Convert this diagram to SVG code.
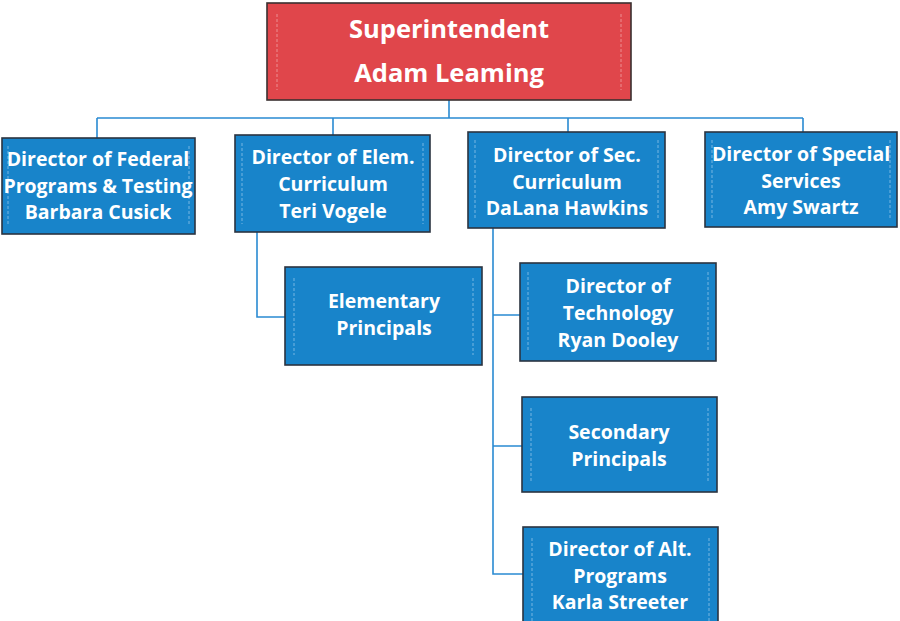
<svg xmlns="http://www.w3.org/2000/svg" width="900" height="621" viewBox="0 0 900 621">
  <style>
    .box { fill: #1884ca; stroke: #2b3440; stroke-width: 1.6; }
    .top { fill: #e0464b; stroke: #3a3030; stroke-width: 1.6; }
    .edge { stroke: #8fc3e8; stroke-width: 1; stroke-dasharray: 3 2; fill: none; opacity: 0.8; }
    .edge-r { stroke: #f0a0a4; stroke-width: 1; stroke-dasharray: 3 2; fill: none; opacity: 0.8; }
    .lbl { fill: #ffffff; font-family: "Open Sans", Lato, "Liberation Sans", sans-serif; font-weight: bold; font-size: 19.5px; text-anchor: middle; }
    .lbl-top { font-size: 25.5px; }
    .link { fill: none; stroke: #2a8ad2; stroke-width: 1.6; }
  </style>
  <rect width="900" height="621" fill="#ffffff"/>

  <g id="connectors">
    <path class="link" d="M449 100 V118 M97 118 H803 M97 118 V138 M333 118 V135 M568 118 V132 M803 118 V132"/>
    <path class="link" d="M257 232 V317 H285"/>
    <path class="link" d="M493 228 V574 H523 M493 315 H520 M493 446 H522"/>
  </g>

  <g id="superintendent">
    <rect class="top" x="267" y="3" width="364" height="97"/>
    <path class="edge-r" d="M277 14 V90 M621 14 V90"/>
    <text class="lbl lbl-top" x="449" y="38">Superintendent</text>
    <text class="lbl lbl-top" x="449" y="82">Adam Leaming</text>
  </g>

  <g id="federal">
    <rect class="box" x="2" y="138" width="193" height="96"/>
    <path class="edge" d="M8 146 V226 M189 146 V226"/>
    <text class="lbl" x="98" y="166">Director of Federal</text>
    <text class="lbl" x="98" y="193">Programs &amp; Testing</text>
    <text class="lbl" x="98" y="219">Barbara Cusick</text>
  </g>

  <g id="elem-curriculum">
    <rect class="box" x="235" y="135" width="195" height="97"/>
    <path class="edge" d="M242 143 V224 M423 143 V224"/>
    <text class="lbl" x="333" y="164">Director of Elem.</text>
    <text class="lbl" x="333" y="191">Curriculum</text>
    <text class="lbl" x="333" y="218">Teri Vogele</text>
  </g>

  <g id="sec-curriculum">
    <rect class="box" x="468" y="132" width="197" height="96"/>
    <path class="edge" d="M475 140 V220 M658 140 V220"/>
    <text class="lbl" x="567" y="162">Director of Sec.</text>
    <text class="lbl" x="567" y="189">Curriculum</text>
    <text class="lbl" x="567" y="215">DaLana Hawkins</text>
  </g>

  <g id="special-services">
    <rect class="box" x="705" y="132" width="192" height="95"/>
    <path class="edge" d="M712 140 V219 M890 140 V219"/>
    <text class="lbl" x="801" y="161">Director of Special</text>
    <text class="lbl" x="801" y="188">Services</text>
    <text class="lbl" x="801" y="214">Amy Swartz</text>
  </g>

  <g id="elem-principals">
    <rect class="box" x="285" y="267" width="197" height="98"/>
    <path class="edge" d="M294 278 V355 M473 278 V355"/>
    <text class="lbl" x="384" y="308">Elementary</text>
    <text class="lbl" x="384" y="335">Principals</text>
  </g>

  <g id="technology">
    <rect class="box" x="520" y="263" width="196" height="98"/>
    <path class="edge" d="M528 272 V352 M708 272 V352"/>
    <text class="lbl" x="618" y="293">Director of</text>
    <text class="lbl" x="618" y="320">Technology</text>
    <text class="lbl" x="618" y="347">Ryan Dooley</text>
  </g>

  <g id="sec-principals">
    <rect class="box" x="522" y="397" width="195" height="95"/>
    <path class="edge" d="M531 408 V482 M708 408 V482"/>
    <text class="lbl" x="619" y="439">Secondary</text>
    <text class="lbl" x="619" y="466">Principals</text>
  </g>

  <g id="alt-programs">
    <rect class="box" x="523" y="527" width="195" height="100"/>
    <path class="edge" d="M532 538 V621 M709 538 V621"/>
    <text class="lbl" x="620" y="556">Director of Alt.</text>
    <text class="lbl" x="620" y="583">Programs</text>
    <text class="lbl" x="620" y="609">Karla Streeter</text>
  </g>
</svg>
